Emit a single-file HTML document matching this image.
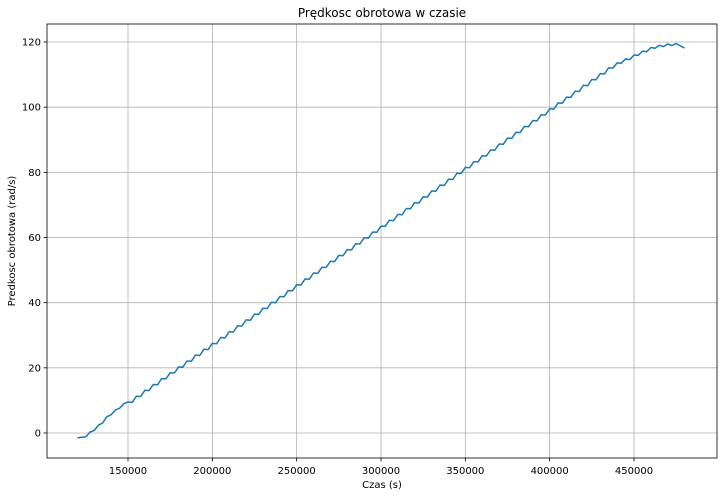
<!DOCTYPE html>
<html><head><meta charset="utf-8"><style>
body{margin:0;background:#fff;font-family:"DejaVu Sans","Liberation Sans",sans-serif;}
svg text{font-family:"DejaVu Sans","Liberation Sans",sans-serif;}
</style></head><body>
<svg id="chart" width="723" height="496"></svg>
<script>
const tStart = 120000, tStep = 2500;
const speedValues = [
-1.5,-1.3,-1.2,0.3,0.8,2.4,3.1,5.0,5.6,7.0,7.6,9.0,
9.5,9.4,11.3,11.2,13.1,13.0,14.9,14.8,16.7,16.6,18.5,18.4,20.3,20.2,22.1,22.0,23.9,23.8,25.7,25.6,
27.5,27.4,29.3,29.2,31.1,31.0,32.9,32.8,34.7,34.6,36.5,36.4,38.3,38.2,40.1,40.0,41.9,41.8,43.7,43.6,
45.5,45.4,47.3,47.2,49.1,49.0,50.9,50.8,52.7,52.6,54.5,54.4,56.3,56.2,58.1,58.0,59.9,59.8,61.7,61.6,
63.5,63.4,65.3,65.2,67.1,67.0,68.9,68.8,70.7,70.6,72.5,72.4,74.3,74.2,76.1,76.0,77.9,77.8,79.7,79.6,
81.5,81.4,83.3,83.2,85.1,85.0,86.9,86.8,88.7,88.6,90.5,90.4,92.3,92.2,94.1,94.0,95.9,95.8,97.7,97.6,
99.5,99.4,101.3,101.2,103.1,103.0,104.9,104.8,106.7,106.6,108.5,108.4,110.3,110.2,112.1,112.0,113.6,113.5,
114.8,114.6,116.0,115.9,117.2,117.0,118.3,118.1,119.0,118.6,119.4,118.9,119.5,118.8,118.2];
const xTicks = [150000,200000,250000,300000,350000,400000,450000];
const yTicks = [0,20,40,60,80,100,120];

const NS="http://www.w3.org/2000/svg";
const svg=document.getElementById('chart');
const L=47,R=717,T=24,B=458;
const xs=v=>128+(v-150000)*(506/300000);
const ys=v=>433-v*(391/120);
function mk(tag,attrs,txt){const e=document.createElementNS(NS,tag);for(const k in attrs)e.setAttribute(k,attrs[k]);if(txt!=null)e.textContent=txt;svg.appendChild(e);return e;}

xTicks.forEach(v=>{
  const x=xs(v);
  const g=mk('line',{x1:x,x2:x,y1:T,y2:B,stroke:'#b0b0b0','stroke-width':0.8});
  
  
  mk('line',{x1:x,x2:x,y1:B,y2:B+3.5,stroke:'#000','stroke-width':0.8});
  const t=mk('text',{x:x,y:B+16,'font-size':10,'text-anchor':'middle'},String(v));
  
  
});
yTicks.forEach(v=>{
  const y=ys(v);
  const g=mk('line',{x1:L,x2:R,y1:y,y2:y,stroke:'#b0b0b0','stroke-width':0.8});
  
  
  mk('line',{x1:L-3.5,x2:L,y1:y,y2:y,stroke:'#000','stroke-width':0.8});
  const t=mk('text',{x:L-6,y:y+3.5,'font-size':10,'text-anchor':'end'},String(v));
  
  
});
const pts=speedValues.map((v,i)=>xs(tStart+i*tStep).toFixed(1)+','+ys(v).toFixed(1)).join(' ');
const line=mk('polyline',{points:pts,fill:'none',stroke:'#1f77b4','stroke-width':1.5,'stroke-linejoin':'round'});


const frame=mk('rect',{x:L,y:T,width:R-L,height:B-T,fill:'none',stroke:'#000','stroke-width':0.8});


const title=mk('text',{x:(L+R)/2,y:17,'font-size':12,'text-anchor':'middle'},'Prędkosc obrotowa w czasie');


const xl=mk('text',{x:(L+R)/2,y:488,'font-size':10,'text-anchor':'middle'},'Czas (s)');


const yl=mk('text',{x:15,y:(T+B)/2,'font-size':10,'text-anchor':'middle',transform:'rotate(-90 15 '+((T+B)/2)+')'},'Predkosc obrotowa (rad/s)');


</script>
</body></html>
